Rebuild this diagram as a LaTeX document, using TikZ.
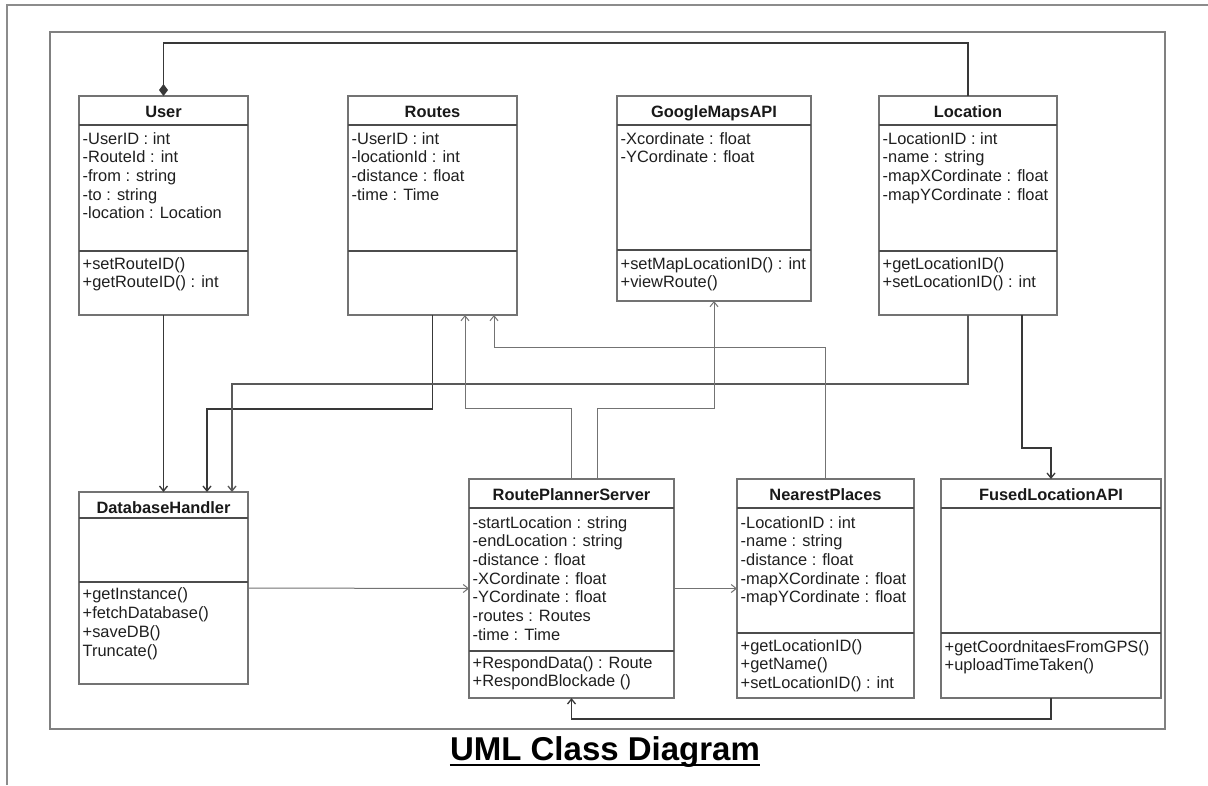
\documentclass[tikz,border=0pt]{standalone}
\usepackage{fontspec}
\setmainfont{Liberation Sans}
\usetikzlibrary{arrows.meta}

\tikzset{
  pageline/.style={draw=black!45, line width=1.2pt},
  framebox/.style={draw=black!50, line width=1.2pt},
  classbox/.style={draw=black!55, line width=1.1pt, fill=white, inner sep=0pt, outer sep=0pt, anchor=north west},
  divider/.style={draw=black!70, line width=1.1pt},
  classtitle/.style={anchor=base, inner sep=0pt, font=\fontsize{16.4}{18.7}\selectfont\bfseries, text=black!90},
  member/.style={anchor=base west, inner sep=0pt, font=\fontsize{16.4}{18.7}\selectfont, text=black!88},
  strong/.style={draw=black!78, line width=1.3pt},
  weak/.style={draw=black!55, line width=1pt},
  tip/.style={-{Straight Barb[length=5pt,width=8pt]}},
  owner/.style={-{Diamond[length=12pt,width=9pt]}},
}

% class box: name, left, top, right, bottom, header rule y, divider y, title
\newcommand\umlclass[8]{%
  \node[classbox, minimum width={(#4-#2)*1pt}, minimum height={(#5-#3)*1pt}] (#1) at (#2,#3) {};
  \draw[divider] (#1.west |- 0,#6) -- (#1.east |- 0,#6);
  \draw[divider] (#1.west |- 0,#7) -- (#1.east |- 0,#7);
  \pgfmathsetmacro\titlebase{#3+21}
  \node[classtitle] (#1-title) at (#1.north |- 0,\titlebase) {#8};
}

% one text line per member: [line spacing] name prefix, x, first baseline, items
\newcommand\memberlist[5][18.7]{%
  \foreach \t [count=\i, evaluate=\i as \yy using #4+(\i-1)*#1] in {#5}
    {\node[member] (#2-\i) at (#3,\yy) {\t};}%
}

\begin{document}
\begin{tikzpicture}[x=1pt,y=-1pt]
\fill[white] (0,0) rectangle (1208,785);
\useasboundingbox (0,0) rectangle (1208,785);

% page edge and diagram frame
\draw[pageline] (7,785) -- (7,5) -- (1208,5);
\draw[framebox] (50,32) rectangle (1165,729);

% classes
\umlclass{user}{79}{96}{248}{315}{125}{251}{User}
\memberlist{user-a}{82.5}{144}{-UserID : int,-RouteId : int,-from : string,-to : string,-location : Location}
\memberlist{user-m}{82.5}{269}{+setRouteID(),+getRouteID() : int}

\umlclass{routes}{348}{96}{517}{315}{125}{251}{Routes}
\memberlist{routes-a}{351.5}{144}{-UserID : int,-locationId : int,-distance : float,-time : Time}

\umlclass{maps}{617}{96}{811}{301}{125}{250}{GoogleMapsAPI}
\memberlist{maps-a}{620.5}{144}{-Xcordinate : float,-YCordinate : float}
\memberlist{maps-m}{620.5}{269}{+setMapLocationID() : int,+viewRoute()}

\umlclass{loc}{879}{96}{1057}{315}{125}{251}{Location}
\memberlist{loc-a}{882.5}{144}{-LocationID : int,-name : string,-mapXCordinate : float,-mapYCordinate : float}
\memberlist{loc-m}{882.5}{269}{+getLocationID(),+setLocationID() : int}

\umlclass{db}{79}{492}{248}{684}{518}{582}{DatabaseHandler}
\memberlist[19]{db-m}{82.5}{599}{+getInstance(),+fetchDatabase(),+saveDB(),Truncate()}

\umlclass{rps}{469}{479}{674}{698}{508}{651}{RoutePlannerServer}
\memberlist{rps-a}{472.5}{528}{-startLocation : string,-endLocation : string,-distance : float,-XCordinate : float,-YCordinate : float,-routes : Routes,-time : Time}
\memberlist{rps-m}{472.5}{668}{+RespondData() : Route,+RespondBlockade ()}

\umlclass{np}{737}{479}{914}{698}{508}{633}{NearestPlaces}
\memberlist{np-a}{740.5}{528}{-LocationID : int,-name : string,-distance : float,-mapXCordinate : float,-mapYCordinate : float}
\memberlist{np-m}{740.5}{651}{+getLocationID(),+getName(),+setLocationID() : int}

\umlclass{fused}{941}{479}{1161}{698}{508}{633}{FusedLocationAPI}
\memberlist{fused-m}{944.5}{652}{+getCoordnitaesFromGPS(),+uploadTimeTaken()}

% bend points of the routed connectors
\coordinate (bus) at (0,43);
\coordinate (j1) at (207,409);
\coordinate (j2) at (232,384);
\coordinate (j3) at (1022,448);
\coordinate (j4) at (0,719);
\coordinate (j5) at (465,408);
\coordinate (j6) at (597,408);
\coordinate (j7) at (494,347);

% composition
\draw[strong,owner] (loc.north) -- (loc.north |- bus) -| (user.north);

% associations
\draw[strong,tip] (user.south) -- (db.north);
\draw[strong,tip] (routes.south) |- (j1) -- (j1 |- db.north);
\draw[strong,tip,draw=black!65] (loc.south) |- (j2) -- (j2 |- db.north);
\draw[strong,tip] (j3 |- loc.south) -- (j3) -| (fused.north);
\draw[strong,tip] (fused.south) -- (fused.south |- j4) -| (rps.south);
\draw[weak,tip] (db.east) -- (rps.west);
\draw[weak,tip] (rps.east) -- (np.west);
\draw[weak,tip] (rps.north) |- (j5) -- (j5 |- routes.south);
\draw[weak,tip] (j6 |- rps.north) -- (j6) -| (maps.south);
\draw[weak,tip] (np.north) |- (j7) -- (j7 |- routes.south);

% caption
\node[font=\fontsize{33}{36}\selectfont\bfseries, anchor=base, inner sep=0pt, text=black] (caption) at (605,760) {UML Class Diagram};
\draw[line width=1.6pt] ([yshift=-5pt]caption.base west) -- ([yshift=-5pt]caption.base east);
\end{tikzpicture}
\end{document}
